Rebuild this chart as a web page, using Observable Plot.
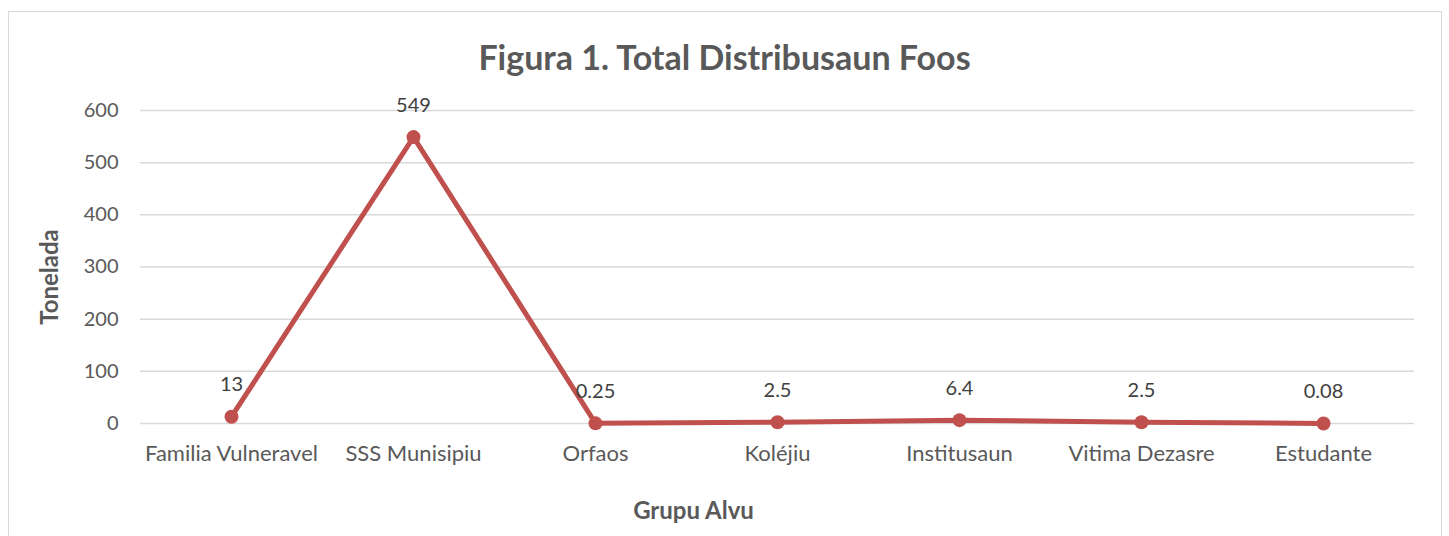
<!DOCTYPE html>
<html>
<head>
<meta charset="utf-8">
<script src="https://cdn.jsdelivr.net/npm/d3@7"></script>
<script src="https://cdn.jsdelivr.net/npm/@observablehq/plot@0.6"></script>
<style>
  html, body { margin: 0; padding: 0; background: #fff; }
  #wrap { position: relative; width: 1449px; height: 536px; overflow: hidden; font-family: Lato, "Open Sans", sans-serif; }
  #frame { position: absolute; left: 8px; top: 11px; width: 1434px; height: 540px; border: 1px solid #d9d9d9; box-sizing: border-box; }
  #title { position: absolute; left: 0; width: 1449px; top: 35px; text-align: center; font-size: 34px; font-weight: bold; color: #595959; line-height: 44px; }
  #chart { position: absolute; left: 0; top: 0; }
</style>
</head>
<body>
<div id="wrap">
  <div id="frame"></div>
  <div id="chart"></div>
  <div id="title">Figura 1. Total Distribusaun Foos</div>
</div>
<script>
const categories = ["Familia Vulneravel", "SSS Munisipiu", "Orfaos", "Koléjiu", "Institusaun", "Vitima Dezasre", "Estudante"];
const values = [13, 549, 0.25, 2.5, 6.4, 2.5, 0.08];
const labels = ["13", "549", "0.25", "2.5", "6.4", "2.5", "0.08"];
const yTicks = [0, 100, 200, 300, 400, 500, 600];

const data = categories.map((c, i) => ({cat: c, v: values[i], label: labels[i]}));
const red = "#C0504D";

const chart = Plot.plot({
  width: 1449,
  height: 536,
  marginLeft: 140,
  marginRight: 35,
  marginTop: 110,
  marginBottom: 113,
  style: {fontFamily: "Lato, 'Open Sans', sans-serif", fontSize: "21px", color: "#595959", background: "transparent"},
  x: {type: "point", domain: categories, padding: 0.5, label: null},
  y: {domain: [0, 600], label: null},
  marks: [
    Plot.ruleY(yTicks, {stroke: "#d9d9d9", strokeWidth: 1.5}),
    Plot.axisY(yTicks, {tickSize: 0, tickPadding: 22, fontSize: 20, fill: "#595959", label: null}),
    Plot.axisX({tickSize: 0, tickPadding: 22, fontSize: 22, fill: "#595959", label: null}),
    Plot.line(data, {x: "cat", y: "v", stroke: red, strokeWidth: 5, strokeLinejoin: "round"}),
    Plot.dot(data, {x: "cat", y: "v", r: 7, fill: red, stroke: null}),
    Plot.text(data, {x: "cat", y: "v", text: "label", dy: -32, fontSize: 20, fill: "#404040"}),
    Plot.text(["Tonelada"], {frameAnchor: "left", textAnchor: "middle", dx: -90, dy: 10, rotate: -90, fontSize: 24, fontWeight: "bold", fill: "#595959"}),
    Plot.text(["Grupu Alvu"], {frameAnchor: "bottom", dx: -84, dy: 95, fontSize: 24, fontWeight: "bold", fill: "#595959"})
  ]
});
document.getElementById("chart").appendChild(chart);
</script>
</body>
</html>
